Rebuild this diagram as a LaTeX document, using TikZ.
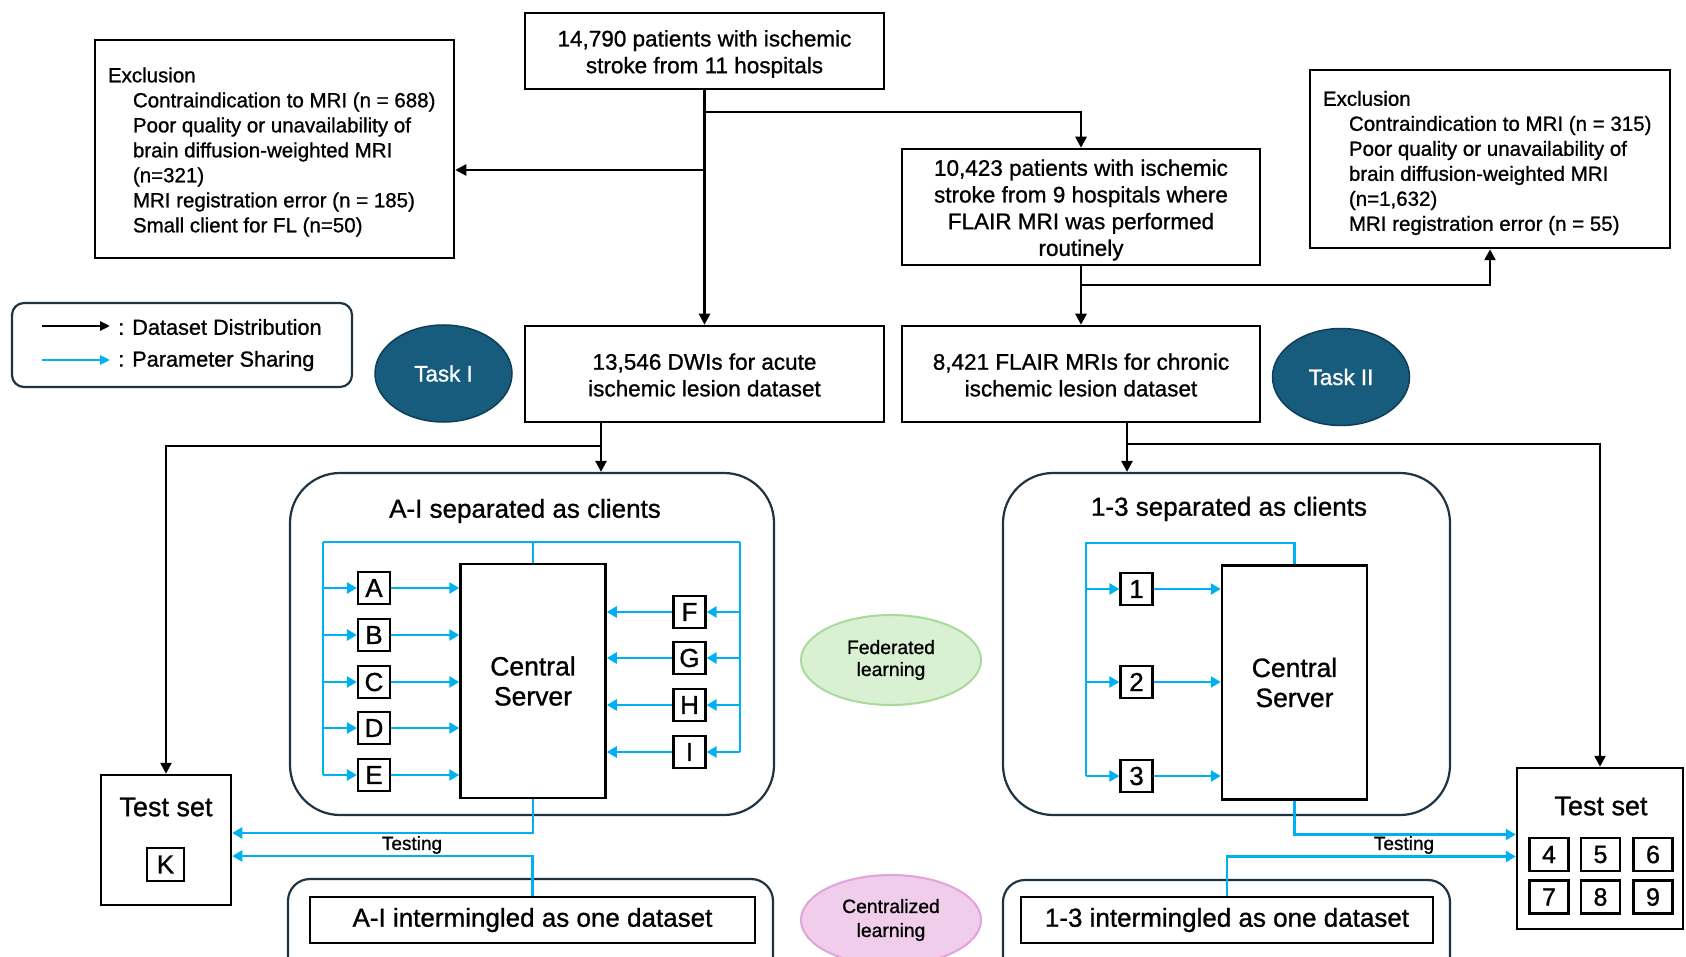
\documentclass[tikz,border=0pt]{standalone}
\usepackage{fontspec}
\setmainfont[FakeBold=1]{Liberation Sans}
\usetikzlibrary{arrows.meta,shapes.geometric,calc}
\definecolor{pblue}{HTML}{00B0F0}
\definecolor{taskc}{HTML}{175B7D}
\definecolor{taskb}{HTML}{0F3F58}
\definecolor{frame}{HTML}{1E3444}
\definecolor{fedfill}{HTML}{D9F1D2}
\definecolor{fedline}{HTML}{A8DB9A}
\definecolor{cenfill}{HTML}{F1CDEC}
\definecolor{cenline}{HTML}{E1A3DA}
\newcommand\setfs[2]{\fontsize{#1}{#2}\selectfont}
\begin{document}
\begin{tikzpicture}[x=1pt,y=-1pt,
  box/.style={draw=black,line width=2.5pt,inner sep=0pt,align=center},
  mainbox/.style={box},
  maintext/.style={inner sep=0pt,align=center,font=\setfs{22.5}{26.7}},
  extext/.style={inner sep=0pt,align=left,anchor=west,font=\setfs{20.5}{25}},
  blk/.style={draw=black,line width=2.5pt,-{Triangle[length=11pt,width=11pt]}},
  bln/.style={draw=pblue,line width=2.5pt},
  bla/.style={bln,-{Triangle[length=10pt,width=11pt]}},
  rframe/.style={draw=frame,line width=2.2pt,rounded corners=50pt,inner sep=0pt},
  cbox/.style={draw=black,line width=2.2pt,minimum width=32pt,minimum height=32pt,inner sep=0pt,font=\setfs{26}{26}},
  nbox/.style={draw=black,line width=2.2pt,minimum width=39pt,minimum height=33pt,inner sep=0pt,font=\setfs{25}{25}},
  server/.style={box,minimum width=145pt,minimum height=234pt,font=\setfs{26.5}{30}},
  task/.style={ellipse,draw=taskb,fill=taskc,line width=1.5pt,minimum width=137pt,minimum height=97pt,text=white,font=\setfs{22.4}{26}},
  title/.style={font=\setfs{26}{30}},
  lbl/.style={font=\setfs{19}{22}},
]
\useasboundingbox (0,0) rectangle (1686,957);
\fill[white] (0,0) rectangle (1686,957);

% ---------- top flow ----------
\node[mainbox,minimum width=359pt,minimum height=76pt] (top) at (704.5,51) {};
\node[maintext] (topt) at ([yshift=-3pt]top.center) {14,790 patients with ischemic\\stroke from 11 hospitals};
\node[mainbox,minimum width=359pt,minimum height=218pt] (exL) at (274.5,149) {};
\node[extext] (exLt) at ([xshift=14pt,yshift=-3pt]exL.west)
  {Exclusion\\
   \hspace*{25pt}Contraindication to MRI (n = 688)\\
   \hspace*{25pt}Poor quality or unavailability of\\
   \hspace*{25pt}brain diffusion-weighted MRI\\
   \hspace*{25pt}(n=321)\\
   \hspace*{25pt}MRI registration error (n = 185)\\
   \hspace*{25pt}Small client for FL (n=50)};
\node[mainbox,minimum width=358pt,minimum height=116pt] (mid) at (1081,207) {};
\node[maintext] (midt) at ([yshift=-3pt]mid.center) {10,423 patients with ischemic\\stroke from 9 hospitals where\\FLAIR MRI was performed\\routinely};
\node[mainbox,minimum width=360pt,minimum height=178pt] (exR) at (1490,159) {};
\node[extext] (exRt) at ([xshift=14pt,yshift=-4pt]exR.west)
  {Exclusion\\
   \hspace*{26pt}Contraindication to MRI (n = 315)\\
   \hspace*{26pt}Poor quality or unavailability of\\
   \hspace*{26pt}brain diffusion-weighted MRI\\
   \hspace*{26pt}(n=1,632)\\
   \hspace*{26pt}MRI registration error (n = 55)};
\node[mainbox,minimum width=359pt,minimum height=96pt] (dwi) at (704.5,374) {};
\node[maintext] (dwit) at ([yshift=-1pt]dwi.center) {13,546 DWIs for acute\\ischemic lesion dataset};
\node[mainbox,minimum width=358pt,minimum height=96pt] (flair) at (1081,374) {};
\node[maintext] (flairt) at ([yshift=-1pt]flair.center) {8,421 FLAIR MRIs for chronic\\ischemic lesion dataset};

\coordinate (b1) at (704.5,112);
\coordinate (b0) at (704.5,170);
\coordinate (b2) at (1081,285);
\draw[blk] (top.south) -- (dwi.north);
\draw[blk] (b0) -- (b0 -| exL.east);
\draw[blk] (b1) -| (mid.north);
\draw[blk] (mid.south) -- (flair.north);
\draw[blk] (b2) -| (exR.south);

% ---------- legend & tasks ----------
\node[draw=frame,line width=2.2pt,rounded corners=12pt,minimum width=340pt,minimum height=84pt] (leg) at (182,345) {};
\coordinate (l1a) at (42,326); \coordinate (l1b) at (110,326);
\coordinate (l2a) at (42,360); \coordinate (l2b) at (110,360);
\draw[draw=black,line width=2.5pt,-{Triangle[length=10pt,width=9pt]}] (l1a) -- (l1b);
\draw[draw=pblue,line width=2.5pt,-{Triangle[length=10pt,width=9pt]}] (l2a) -- (l2b);
\node[anchor=west,inner sep=0pt,font=\setfs{21.7}{24}] (lt1) at (118,327) {: Dataset Distribution};
\node[anchor=west,inner sep=0pt,font=\setfs{21.7}{24}] (lt2) at (118,361) {: Parameter Sharing};

\node[task] (t1) at (443.5,373.5) {Task I};
\node[task] (t2) at (1341,377) {Task II};

% ---------- federated frames ----------
\node[rframe,minimum width=484pt,minimum height=342pt] (flL) at (532,644) {};
\node[rframe,minimum width=447pt,minimum height=342pt] (flR) at (1226.5,644) {};
\node[title] (ttL) at (525,511) {A-I separated as clients};
\node[title] (ttR) at (1229,509) {1-3 separated as clients};

\coordinate (d1) at (601,422);
\coordinate (d2) at (601,446);
\coordinate (f1) at (1127,422);
\coordinate (f2) at (1127,444);

% test sets
\node[box,minimum width=130pt,minimum height=130pt] (testL) at (166,840) {};
\node[font=\setfs{27}{30}] (tsL) at (166,807) {Test set};
\node[draw=black,line width=2.2pt,minimum width=37pt,minimum height=33pt,inner sep=0pt,font=\setfs{26}{26}] (K) at (165.5,864.5) {K};

\node[box,minimum width=166pt,minimum height=161pt] (testR) at (1600,848.5) {};
\node[font=\setfs{27}{30}] (tsR) at (1601,806) {Test set};
\node[nbox] (n4) at (1549,854.5) {4};
\node[nbox] (n5) at (1600.5,854.5) {5};
\node[nbox] (n6) at (1653,854.5) {6};
\node[nbox] (n7) at (1549,897) {7};
\node[nbox] (n8) at (1600.5,897) {8};
\node[nbox] (n9) at (1653,897) {9};

\draw[blk] (d1) -- (d1 |- flL.north);
\draw[blk] (d2) -| (testL.north);
\draw[blk] (f1) -- (f1 |- flR.north);
\draw[blk] (f2) -| (testR.north);

% ---------- left FL ----------
\node[server] (sL) at (533,681) {Central\\Server};
\node[cbox] (cA) at (374,588) {A};
\node[cbox] (cB) at (374,635) {B};
\node[cbox] (cC) at (374,682) {C};
\node[cbox] (cD) at (374,728) {D};
\node[cbox] (cE) at (374,775) {E};
\node[cbox] (cF) at (689.5,612) {F};
\node[cbox] (cG) at (689.5,658) {G};
\node[cbox] (cH) at (689.5,705) {H};
\node[cbox] (cI) at (689.5,752) {I};
\coordinate (tl) at (323,542);
\coordinate (tr) at (740,542);
\draw[bln] (sL.north) -- (sL.north |- tl);
\draw[bln] (tl) -- (tr);
\draw[bln] (tl) -- (tl |- cE);
\draw[bln] (tr) -- (tr |- cI);
\foreach \c in {cA,cB,cC,cD,cE}{
  \draw[bla] (tl |- \c) -- (\c.west);
  \draw[bla] (\c.east) -- (sL.west |- \c.east);
}
\foreach \c in {cF,cG,cH,cI}{
  \draw[bla] (tr |- \c) -- (\c.east);
  \draw[bla] (\c.west) -- (sL.east |- \c.west);
}

% ---------- right FL ----------
\node[server] (sR) at (1294.5,682.5) {Central\\Server};
\node[cbox] (c1) at (1136.5,589) {1};
\node[cbox] (c2) at (1136.5,682) {2};
\node[cbox] (c3) at (1136.5,776) {3};
\coordinate (rtl) at (1086,543);
\draw[bln] (sR.north) |- (rtl) -- (rtl |- c3);
\foreach \c in {c1,c2,c3}{
  \draw[bla] (rtl |- \c) -- (\c.west);
  \draw[bla] (\c.east) -- (sR.west |- \c.east);
}

% ---------- ellipses ----------
\node[ellipse,draw=fedline,fill=fedfill,line width=2pt,minimum width=180pt,minimum height=90pt,align=center,font=\setfs{19.3}{22}] (fed) at (891,660) {Federated\\learning};
\node[ellipse,draw=cenline,fill=cenfill,line width=2pt,minimum width=180pt,minimum height=90pt,align=center,font=\setfs{19.3}{24}] (cen) at (891,920) {Centralized\\learning};

% ---------- centralized frames ----------
\node[draw=frame,line width=2.2pt,rounded corners=22pt,minimum width=485pt,minimum height=160pt] (cfL) at (530.5,959) {};
\node[draw=frame,line width=2.2pt,rounded corners=22pt,minimum width=447pt,minimum height=160pt] (cfR) at (1226.5,960) {};
\node[box,minimum width=445pt,minimum height=46pt,font=\setfs{26}{28}] (iL) at (532.5,920) {A-I intermingled as one dataset};
\node[box,minimum width=412pt,minimum height=46pt,font=\setfs{26}{28}] (iR) at (1227,920) {1-3 intermingled as one dataset};

% ---------- testing arrows ----------
\coordinate (tL1) at ([yshift=7pt]testL.east);
\coordinate (tL2) at ([yshift=-16pt]testL.east);
\draw[bla] (sL.south) |- (tL1);
\draw[bla] (iL.north) |- (tL2);
\node[lbl] (tgL) at (412,845) {Testing};

\coordinate (tR1) at ([yshift=14pt]testR.west);
\coordinate (tR2) at ([yshift=-8pt]testR.west);
\draw[bla] (sR.south) |- (tR1);
\draw[bla] (iR.north) |- (tR2);
\node[lbl] (tgR) at (1404,845) {Testing};
\end{tikzpicture}
\end{document}
